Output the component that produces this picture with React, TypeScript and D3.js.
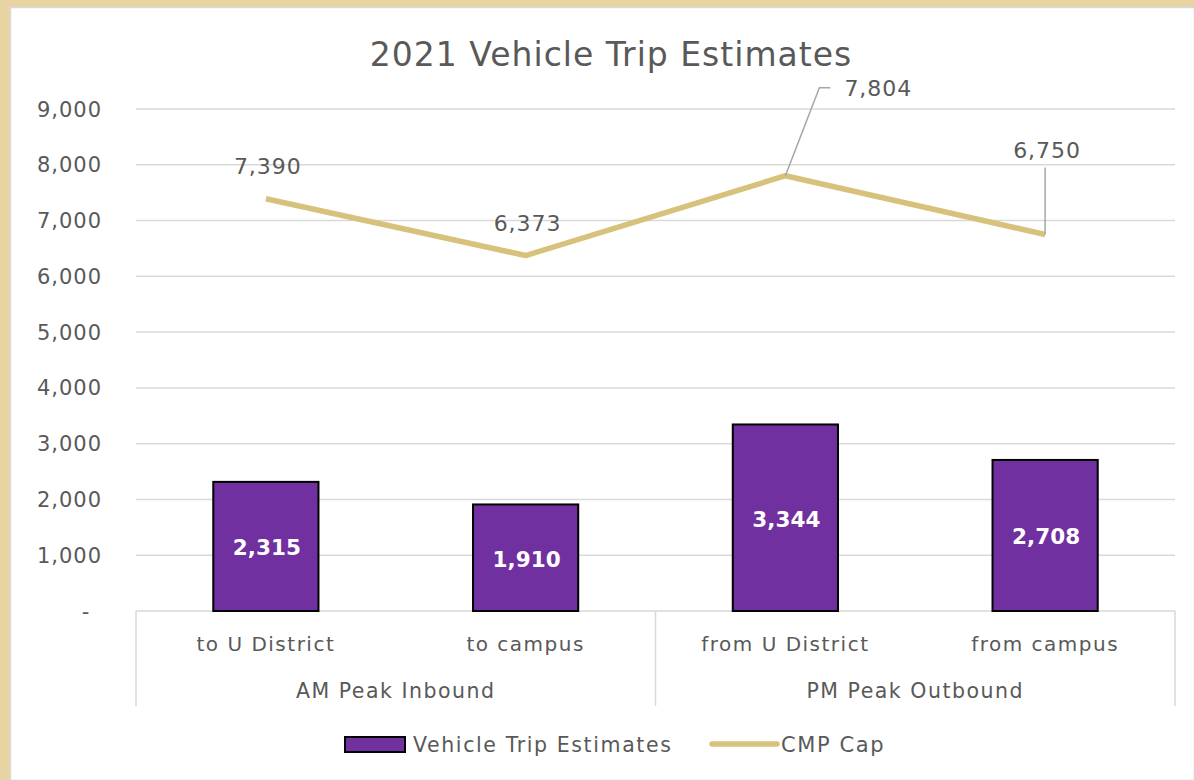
import React from "react";
import * as d3 from "d3";

const groups = ["AM Peak Inbound", "PM Peak Outbound"];
const categories = ["to U District", "to campus", "from U District", "from campus"];
const categoryGroup = [0, 0, 1, 1];
const tripEstimates = [2315, 1910, 3344, 2708];
const cmpCap = [7390, 6373, 7804, 6750];
const yTicks = [0, 1000, 2000, 3000, 4000, 5000, 6000, 7000, 8000, 9000];

const W = 1194, H = 780;
const FONT = "'DejaVu Sans', Verdana, sans-serif";
const TEXT = "#595959";
const PURPLE = "#7030A0";
const GOLD = "#D6C27A";

export default function App() {
  const left = 136, right = 1175, top = 109, bottom = 611;
  const x = d3.scaleBand<string>().domain(categories).range([left, right]).paddingInner(0).paddingOuter(0);
  const y = d3.scaleLinear().domain([0, 9000]).range([bottom, top]);
  const fmt = d3.format(",");
  const barW = x.bandwidth() * 0.405;
  const cx = (c: string) => (x(c) as number) + x.bandwidth() / 2;
  const line = d3.line<number>().x((_, i) => cx(categories[i])).y((d) => y(d));

  const groupBounds = groups.map((g, gi) => {
    const cats = categories.filter((_, i) => categoryGroup[i] === gi);
    const x0 = x(cats[0]) as number;
    const x1 = (x(cats[cats.length - 1]) as number) + x.bandwidth();
    return { g, x0, x1 };
  });

  const p2 = { x: cx(categories[2]), y: y(cmpCap[2]) };
  const p3 = { x: cx(categories[3]), y: y(cmpCap[3]) };

  return (
    <svg width={W} height={H} style={{ position: "absolute", left: 0, top: 0, display: "block" }} fontFamily={FONT}>
      <rect x={0} y={0} width={W} height={H} fill="#E8D4A2" />
      <rect x={10.5} y={7.5} width={W - 10} height={H - 7} fill="#ffffff" stroke="#D9D9D9" strokeWidth={1.5} />
      <text x={611} y={66} textAnchor="middle" fontSize={33} letterSpacing={1} fill={TEXT}>2021 Vehicle Trip Estimates</text>

      {yTicks.map((t) => (
        <g key={t}>
          {t > 0 && <line x1={left} x2={right} y1={y(t)} y2={y(t)} stroke="#D9D9D9" strokeWidth={1.5} />}
          <text x={t === 0 ? 86 : 102} y={y(t) + 7.5} textAnchor={t === 0 ? "middle" : "end"} fontSize={21} letterSpacing={1} fill={TEXT}>
            {t === 0 ? "-" : fmt(t)}
          </text>
        </g>
      ))}

      {/* category axis box */}
      <line x1={left} x2={right} y1={bottom} y2={bottom} stroke="#D9D9D9" strokeWidth={1.5} />
      {[left, groupBounds[0].x1, right].map((xx, i) => (
        <line key={i} x1={xx} x2={xx} y1={bottom} y2={706} stroke="#D9D9D9" strokeWidth={1.5} />
      ))}
      {categories.map((c) => (
        <text key={c} x={cx(c)} y={651} textAnchor="middle" fontSize={20} letterSpacing={1.5} fill={TEXT}>{c}</text>
      ))}
      {groupBounds.map((b) => (
        <text key={b.g} x={(b.x0 + b.x1) / 2} y={698} textAnchor="middle" fontSize={20.5} letterSpacing={1.5} fill={TEXT}>{b.g}</text>
      ))}

      {/* bars */}
      {tripEstimates.map((v, i) => {
        const c = categories[i];
        return (
          <g key={c}>
            <rect x={cx(c) - barW / 2} y={y(v)} width={barW} height={bottom - y(v)} fill={PURPLE} stroke="#000" strokeWidth={2} />
            <text x={cx(c) + 1} y={(y(v) + bottom) / 2 + 9} textAnchor="middle" fontSize={21.5} fontWeight="bold" fill="#fff">{fmt(v)}</text>
          </g>
        );
      })}

      {/* CMP line */}
      <path d={line(cmpCap) || ""} fill="none" stroke={GOLD} strokeWidth={5.5} strokeLinejoin="round" />
      <polyline points={`${p2.x},${p2.y} ${p2.x + 34},${p2.y - 88} ${p2.x + 45},${p2.y - 88}`} fill="none" stroke="#A6A6A6" strokeWidth={1.5} />
      <polyline points={`${p3.x},${p3.y} ${p3.x},${p3.y - 67}`} fill="none" stroke="#A6A6A6" strokeWidth={1.5} />
      {cmpCap.map((v, i) => {
        const px = cx(categories[i]);
        const py = y(v);
        const lx = i === 2 ? px + 93 : px + 2;
        const ly = i === 2 ? py - 80 : i === 3 ? py - 77 : py - 24.5;
        return (
          <text key={i} x={lx} y={ly} textAnchor="middle" fontSize={22} letterSpacing={1} fill={TEXT}>{fmt(v)}</text>
        );
      })}

      {/* legend */}
      <rect x={345} y={737} width={60} height={15} fill={PURPLE} stroke="#000" strokeWidth={2} />
      <text x={413} y={752} fontSize={20.5} letterSpacing={1.6} fill={TEXT}>Vehicle Trip Estimates</text>
      <line x1={712} x2={777} y1={744} y2={744} stroke={GOLD} strokeWidth={5.5} strokeLinecap="round" />
      <text x={781} y={752} fontSize={21} letterSpacing={1.6} fill={TEXT}>CMP Cap</text>
    </svg>
  );
}
